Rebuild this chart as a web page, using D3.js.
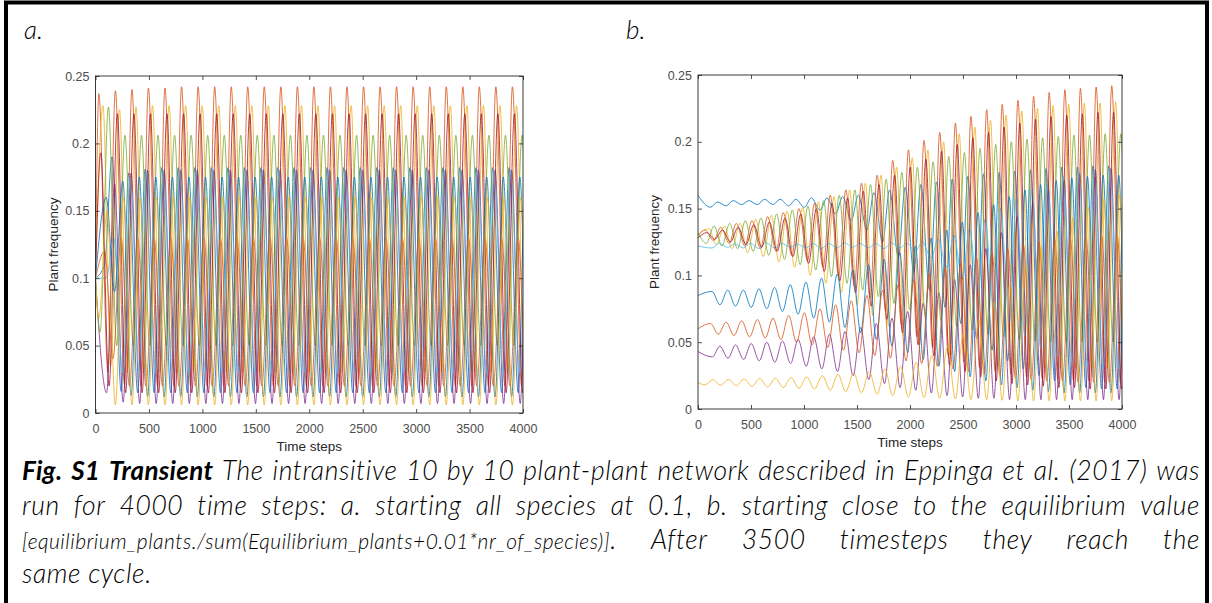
<!DOCTYPE html>
<html>
<head>
<meta charset="utf-8">
<script src="https://cdn.jsdelivr.net/npm/d3@7"></script>
<style>
  body { margin: 0; background: #fff; }
  svg { display: block; }
</style>
</head>
<body>
<svg width="1212" height="603"></svg>
<script>
// series order = MATLAB line order
const seriesNames = ['sp1', 'sp2', 'sp3', 'sp4', 'sp5', 'sp6', 'sp7', 'sp8', 'sp9', 'sp10'];
const colors = ['#0072BD', '#D95319', '#EDB120', '#7E2F8E', '#77AC30', '#4DBEEE', '#A2142F', '#0072BD', '#D95319', '#EDB120'];
const xTicks = [0, 500, 1000, 1500, 2000, 2500, 3000, 3500, 4000];
const yTicks = [0, 0.05, 0.1, 0.15, 0.2, 0.25];
const yTickLabels = ['0', '0.05', '0.1', '0.15', '0.2', '0.25'];

// where in a cycle each species peaks / bottoms out (fraction of a cycle)
const peakPhase = [0.80, 0.00, 0.25, 0.95, 0.58, 0.90, 0.12, 0.45, 0.35, 0.50];
const troughPhase = [0.35, 0.55, 0.72, 0.47, 0.08, 0.45, 0.62, 0.95, 0.85, 0.00];

// ---- panel a: all species start at 0.1 ----
const startA = [0.1, 0.1, 0.1, 0.1, 0.1, 0.1, 0.1, 0.1, 0.1, 0.1];
const cycleTimesA = [31, 186, 341, 495, 650, 805, 960, 1115, 1270, 1424, 1579, 1734, 1889, 2043,
  2198, 2353, 2508, 2663, 2817, 2972, 3127, 3282, 3437, 3591, 3746, 3901, 4056];
const peaksA = [
  [0.19, 0.178, 0.181, 0.182, 0.182, 0.182, 0.182, 0.182, 0.182, 0.182, 0.182, 0.182, 0.182, 0.182, 0.182, 0.182, 0.182, 0.182, 0.182, 0.182, 0.182, 0.182, 0.182, 0.182, 0.182, 0.182, 0.182],
  [0.237, 0.239, 0.24, 0.241, 0.241, 0.242, 0.242, 0.242, 0.242, 0.242, 0.242, 0.242, 0.242, 0.242, 0.242, 0.242, 0.242, 0.242, 0.242, 0.242, 0.242, 0.242, 0.242, 0.242, 0.242, 0.242, 0.242],
  [0.228, 0.225, 0.227, 0.228, 0.228, 0.228, 0.228, 0.228, 0.228, 0.228, 0.228, 0.228, 0.228, 0.228, 0.228, 0.228, 0.228, 0.228, 0.228, 0.228, 0.228, 0.228, 0.228, 0.228, 0.228, 0.228, 0.228],
  [0.17, 0.178, 0.18, 0.18, 0.18, 0.18, 0.18, 0.18, 0.18, 0.18, 0.18, 0.18, 0.18, 0.18, 0.18, 0.18, 0.18, 0.18, 0.18, 0.18, 0.18, 0.18, 0.18, 0.18, 0.18, 0.18, 0.18],
  [0.227, 0.206, 0.206, 0.206, 0.206, 0.206, 0.206, 0.206, 0.206, 0.206, 0.206, 0.206, 0.206, 0.206, 0.206, 0.206, 0.206, 0.206, 0.206, 0.206, 0.206, 0.206, 0.206, 0.206, 0.206, 0.206, 0.206],
  [0.13, 0.175, 0.179, 0.18, 0.18, 0.18, 0.18, 0.18, 0.18, 0.18, 0.18, 0.18, 0.18, 0.18, 0.18, 0.18, 0.18, 0.18, 0.18, 0.18, 0.18, 0.18, 0.18, 0.18, 0.18, 0.18, 0.18],
  [0.193, 0.222, 0.222, 0.222, 0.222, 0.222, 0.222, 0.222, 0.222, 0.222, 0.222, 0.222, 0.222, 0.222, 0.222, 0.222, 0.222, 0.222, 0.222, 0.222, 0.222, 0.222, 0.222, 0.222, 0.222, 0.222, 0.222],
  [0.16, 0.172, 0.175, 0.175, 0.175, 0.175, 0.175, 0.175, 0.175, 0.175, 0.175, 0.175, 0.175, 0.175, 0.175, 0.175, 0.175, 0.175, 0.175, 0.175, 0.175, 0.175, 0.175, 0.175, 0.175, 0.175, 0.175],
  [0.12, 0.13, 0.13, 0.13, 0.13, 0.13, 0.13, 0.13, 0.13, 0.13, 0.13, 0.13, 0.13, 0.13, 0.13, 0.13, 0.13, 0.13, 0.13, 0.13, 0.13, 0.13, 0.13, 0.13, 0.13, 0.13, 0.13],
  [0.15, 0.16, 0.16, 0.16, 0.16, 0.16, 0.16, 0.16, 0.16, 0.16, 0.16, 0.16, 0.16, 0.16, 0.16, 0.16, 0.16, 0.16, 0.16, 0.16, 0.16, 0.16, 0.16, 0.16, 0.16, 0.16, 0.16]
];
const troughsA = [
  [0.11, 0.016, 0.015, 0.015, 0.015, 0.015, 0.015, 0.015, 0.015, 0.015, 0.015, 0.015, 0.015, 0.015, 0.015, 0.015, 0.015, 0.015, 0.015, 0.015, 0.015, 0.015, 0.015, 0.015, 0.015, 0.015, 0.015],
  [0.03, 0.021, 0.02, 0.02, 0.02, 0.02, 0.02, 0.02, 0.02, 0.02, 0.02, 0.02, 0.02, 0.02, 0.02, 0.02, 0.02, 0.02, 0.02, 0.02, 0.02, 0.02, 0.02, 0.02, 0.02, 0.02, 0.02],
  [0.035, 0.03, 0.03, 0.03, 0.03, 0.03, 0.03, 0.03, 0.03, 0.03, 0.03, 0.03, 0.03, 0.03, 0.03, 0.03, 0.03, 0.03, 0.03, 0.03, 0.03, 0.03, 0.03, 0.03, 0.03, 0.03, 0.03],
  [0.015, 0.008, 0.007, 0.007, 0.007, 0.007, 0.007, 0.007, 0.007, 0.007, 0.007, 0.007, 0.007, 0.007, 0.007, 0.007, 0.007, 0.007, 0.007, 0.007, 0.007, 0.007, 0.007, 0.007, 0.007, 0.007, 0.007],
  [0.06, 0.05, 0.05, 0.05, 0.05, 0.05, 0.05, 0.05, 0.05, 0.05, 0.05, 0.05, 0.05, 0.05, 0.05, 0.05, 0.05, 0.05, 0.05, 0.05, 0.05, 0.05, 0.05, 0.05, 0.05, 0.05, 0.05],
  [0.1, 0.03, 0.03, 0.03, 0.03, 0.03, 0.03, 0.03, 0.03, 0.03, 0.03, 0.03, 0.03, 0.03, 0.03, 0.03, 0.03, 0.03, 0.03, 0.03, 0.03, 0.03, 0.03, 0.03, 0.03, 0.03, 0.03],
  [0.02, 0.015, 0.015, 0.015, 0.015, 0.015, 0.015, 0.015, 0.015, 0.015, 0.015, 0.015, 0.015, 0.015, 0.015, 0.015, 0.015, 0.015, 0.015, 0.015, 0.015, 0.015, 0.015, 0.015, 0.015, 0.015, 0.015],
  [0.09, 0.013, 0.012, 0.012, 0.012, 0.012, 0.012, 0.012, 0.012, 0.012, 0.012, 0.012, 0.012, 0.012, 0.012, 0.012, 0.012, 0.012, 0.012, 0.012, 0.012, 0.012, 0.012, 0.012, 0.012, 0.012, 0.012],
  [0.04, 0.02, 0.02, 0.02, 0.02, 0.02, 0.02, 0.02, 0.02, 0.02, 0.02, 0.02, 0.02, 0.02, 0.02, 0.02, 0.02, 0.02, 0.02, 0.02, 0.02, 0.02, 0.02, 0.02, 0.02, 0.02, 0.02],
  [0.07, 0.006, 0.006, 0.006, 0.006, 0.006, 0.006, 0.006, 0.006, 0.006, 0.006, 0.006, 0.006, 0.006, 0.006, 0.006, 0.006, 0.006, 0.006, 0.006, 0.006, 0.006, 0.006, 0.006, 0.006, 0.006, 0.006]
];

// ---- panel b: start close to the equilibrium ----
const startB = [0.16, 0.13, 0.13, 0.043, 0.132, 0.122, 0.128, 0.085, 0.06, 0.02];
const cycleTimesB = [66, 214, 361, 509, 656, 804, 952, 1099, 1247, 1394, 1542, 1690, 1837, 1985,
  2132, 2280, 2428, 2575, 2723, 2870, 3018, 3166, 3313, 3461, 3608, 3756, 3903, 4051];
const peaksB = [
  [0.155, 0.156, 0.156, 0.157, 0.157, 0.157, 0.158, 0.158, 0.159, 0.16, 0.162, 0.164, 0.166, 0.168, 0.17, 0.172, 0.174, 0.176, 0.177, 0.178, 0.179, 0.18, 0.181, 0.181, 0.182, 0.182, 0.182, 0.182],
  [0.134, 0.136, 0.139, 0.141, 0.144, 0.147, 0.15, 0.154, 0.16, 0.164, 0.169, 0.175, 0.186, 0.194, 0.201, 0.207, 0.214, 0.219, 0.224, 0.228, 0.231, 0.234, 0.237, 0.239, 0.24, 0.241, 0.242, 0.242],
  [0.135, 0.137, 0.139, 0.142, 0.145, 0.148, 0.151, 0.155, 0.159, 0.164, 0.169, 0.175, 0.181, 0.188, 0.194, 0.2, 0.206, 0.211, 0.216, 0.22, 0.223, 0.225, 0.227, 0.228, 0.229, 0.229, 0.23, 0.23],
  [0.047, 0.048, 0.049, 0.05, 0.051, 0.052, 0.054, 0.056, 0.058, 0.061, 0.064, 0.068, 0.073, 0.079, 0.087, 0.097, 0.108, 0.12, 0.132, 0.144, 0.155, 0.164, 0.171, 0.176, 0.179, 0.18, 0.18, 0.18],
  [0.137, 0.139, 0.141, 0.143, 0.146, 0.149, 0.152, 0.156, 0.16, 0.164, 0.168, 0.172, 0.177, 0.181, 0.185, 0.189, 0.192, 0.195, 0.198, 0.2, 0.202, 0.203, 0.204, 0.205, 0.205, 0.206, 0.206, 0.206],
  [0.124, 0.1235, 0.124, 0.1245, 0.124, 0.1235, 0.124, 0.124, 0.1245, 0.124, 0.124, 0.1245, 0.124, 0.125, 0.127, 0.13, 0.135, 0.142, 0.15, 0.158, 0.165, 0.17, 0.174, 0.177, 0.179, 0.18, 0.18, 0.18],
  [0.132, 0.134, 0.136, 0.138, 0.14, 0.143, 0.146, 0.15, 0.154, 0.158, 0.163, 0.168, 0.175, 0.181, 0.187, 0.193, 0.198, 0.203, 0.207, 0.211, 0.214, 0.217, 0.219, 0.22, 0.221, 0.222, 0.222, 0.222],
  [0.088, 0.089, 0.089, 0.09, 0.091, 0.093, 0.095, 0.098, 0.101, 0.104, 0.108, 0.112, 0.117, 0.122, 0.128, 0.134, 0.14, 0.147, 0.153, 0.159, 0.164, 0.168, 0.171, 0.173, 0.174, 0.175, 0.175, 0.175],
  [0.064, 0.065, 0.066, 0.067, 0.068, 0.07, 0.072, 0.075, 0.078, 0.081, 0.085, 0.089, 0.093, 0.097, 0.101, 0.105, 0.109, 0.113, 0.117, 0.12, 0.123, 0.125, 0.127, 0.128, 0.129, 0.13, 0.13, 0.13],
  [0.022, 0.0222, 0.0225, 0.0228, 0.023, 0.0235, 0.024, 0.025, 0.026, 0.027, 0.028, 0.03, 0.032, 0.035, 0.04, 0.047, 0.056, 0.067, 0.08, 0.094, 0.108, 0.121, 0.133, 0.143, 0.151, 0.157, 0.16, 0.16]
];
const troughsB = [
  [0.151, 0.152, 0.153, 0.153, 0.153, 0.152, 0.151, 0.149, 0.146, 0.141, 0.134, 0.125, 0.114, 0.102, 0.089, 0.076, 0.064, 0.053, 0.044, 0.036, 0.03, 0.025, 0.021, 0.018, 0.016, 0.015, 0.015, 0.015],
  [0.126, 0.124, 0.122, 0.12, 0.118, 0.115, 0.111, 0.106, 0.1, 0.092, 0.083, 0.073, 0.063, 0.054, 0.046, 0.04, 0.035, 0.031, 0.028, 0.026, 0.024, 0.023, 0.022, 0.021, 0.021, 0.02, 0.02, 0.02],
  [0.123, 0.12, 0.117, 0.114, 0.11, 0.106, 0.1, 0.094, 0.087, 0.078, 0.07, 0.062, 0.055, 0.049, 0.044, 0.04, 0.037, 0.034, 0.032, 0.031, 0.03, 0.03, 0.03, 0.03, 0.03, 0.03, 0.03, 0.03],
  [0.039, 0.038, 0.037, 0.036, 0.035, 0.034, 0.032, 0.03, 0.028, 0.025, 0.022, 0.019, 0.016, 0.014, 0.012, 0.01, 0.009, 0.008, 0.008, 0.007, 0.007, 0.007, 0.007, 0.007, 0.007, 0.007, 0.007, 0.007],
  [0.124, 0.122, 0.12, 0.118, 0.115, 0.112, 0.108, 0.104, 0.099, 0.094, 0.089, 0.084, 0.079, 0.074, 0.07, 0.066, 0.062, 0.059, 0.056, 0.054, 0.052, 0.051, 0.05, 0.05, 0.05, 0.05, 0.05, 0.05],
  [0.1205, 0.121, 0.1205, 0.12, 0.1205, 0.121, 0.1205, 0.12, 0.1205, 0.121, 0.1205, 0.12, 0.1205, 0.118, 0.113, 0.106, 0.097, 0.087, 0.076, 0.065, 0.055, 0.046, 0.04, 0.035, 0.032, 0.03, 0.03, 0.03],
  [0.127, 0.125, 0.123, 0.121, 0.118, 0.114, 0.109, 0.103, 0.096, 0.087, 0.077, 0.067, 0.057, 0.048, 0.04, 0.033, 0.028, 0.024, 0.021, 0.019, 0.018, 0.017, 0.016, 0.016, 0.015, 0.015, 0.015, 0.015],
  [0.078, 0.077, 0.076, 0.075, 0.073, 0.071, 0.068, 0.065, 0.061, 0.057, 0.052, 0.047, 0.042, 0.037, 0.032, 0.028, 0.024, 0.021, 0.018, 0.016, 0.014, 0.013, 0.012, 0.012, 0.012, 0.012, 0.012, 0.012],
  [0.056, 0.055, 0.054, 0.053, 0.052, 0.05, 0.048, 0.046, 0.044, 0.042, 0.04, 0.038, 0.036, 0.034, 0.032, 0.03, 0.028, 0.026, 0.025, 0.023, 0.022, 0.021, 0.021, 0.02, 0.02, 0.02, 0.02, 0.02],
  [0.018, 0.0178, 0.0175, 0.017, 0.0165, 0.016, 0.0155, 0.015, 0.014, 0.013, 0.012, 0.011, 0.01, 0.009, 0.0085, 0.008, 0.0075, 0.007, 0.007, 0.0065, 0.006, 0.006, 0.006, 0.006, 0.006, 0.006, 0.006, 0.006]
];

// caption: [text, kind] pieces per line; a piece without a leading space sticks to the word before
const captionLines = [
  [['Fig. S1 Transient', 'bold'], [' The intransitive 10 by 10 plant-plant network described in Eppinga et al. (2017) was', 'normal']],
  [['run for 4000 time steps: a. starting all species at 0.1, b. starting close to the equilibrium value', 'normal']],
  [['[equilibrium_plants./sum(Equilibrium_plants+0.01*nr_of_species)]', 'small'], ['. After 3500 timesteps they reach the', 'normal']],
  [['same cycle.', 'normal']]
];

const svg = d3.select('svg');
const capFont = 'Lato, "Open Sans", sans-serif';
const axFont = '"Liberation Sans", Arial, sans-serif';

// frame around the figure
svg.append('rect').attr('x', 6).attr('y', 2.5).attr('width', 1201).attr('height', 610)
  .attr('fill', 'none').attr('stroke', '#000').attr('stroke-width', 4);

svg.append('text').attr('x', 24).attr('y', 39).text('a.')
  .style('font-family', capFont).style('font-style', 'italic')
  .style('font-weight', 300).style('font-size', '26px');
svg.append('text').attr('x', 626).attr('y', 39).text('b.')
  .style('font-family', capFont).style('font-style', 'italic')
  .style('font-weight', 300).style('font-size', '26px');

const buildPoints = (cycleTimes, start, peaks, troughs, i) => {
  const pts = [[0, start[i]]];
  cycleTimes.forEach((t, k) => {
    const next = k + 1 < cycleTimes.length ? cycleTimes[k + 1] : t + (t - cycleTimes[k - 1]);
    const P = next - t;
    pts.push([t + peakPhase[i] * P, peaks[i][k]]);
    pts.push([t + troughPhase[i] * P, troughs[i][k]]);
  });
  return pts.sort((a, b) => a[0] - b[0]);
};

const drawPanel = (id, box, cycleTimes, start, peaks, troughs, labelX) => {
  const x = d3.scaleLinear().domain([0, 4000]).range([box.x0, box.x1]);
  const y = d3.scaleLinear().domain([0, 0.25]).range([box.y1, box.y0]);
  const g = svg.append('g');

  g.append('clipPath').attr('id', 'clip' + id).append('rect')
    .attr('x', box.x0).attr('y', box.y0).attr('width', box.x1 - box.x0).attr('height', box.y1 - box.y0);

  const line = d3.line().x(d => x(d[0])).y(d => y(d[1])).curve(d3.curveMonotoneX);
  const lines = g.append('g').attr('clip-path', 'url(#clip' + id + ')');
  seriesNames.forEach((name, i) => {
    lines.append('path')
      .attr('d', line(buildPoints(cycleTimes, start, peaks, troughs, i)))
      .attr('fill', 'none')
      .attr('stroke', colors[i])
      .attr('stroke-width', 0.95)
      .attr('stroke-opacity', 0.85);
  });

  // MATLAB style box with ticks inside
  const axisStyle = sel => {
    sel.select('.domain').remove();
    sel.selectAll('line').attr('stroke', '#262626').attr('stroke-width', 0.8);
    sel.selectAll('text').attr('fill', '#4d4d4d')
      .style('font-family', axFont).style('font-size', '12.5px');
  };
  g.append('g').attr('transform', `translate(0,${box.y1})`)
    .call(d3.axisBottom(x).tickValues(xTicks).tickSizeInner(-4).tickSizeOuter(0).tickPadding(11)
      .tickFormat(d3.format('d')))
    .call(axisStyle);
  g.append('g').attr('transform', `translate(0,${box.y0})`)
    .call(d3.axisTop(x).tickValues(xTicks).tickSizeInner(-4).tickSizeOuter(0).tickFormat(''))
    .call(axisStyle);
  g.append('g').attr('transform', `translate(${box.x0},0)`)
    .call(d3.axisLeft(y).tickValues(yTicks).tickSizeInner(-4).tickSizeOuter(0).tickPadding(6)
      .tickFormat((d, j) => yTickLabels[j]))
    .call(axisStyle);
  g.append('g').attr('transform', `translate(${box.x1},0)`)
    .call(d3.axisRight(y).tickValues(yTicks).tickSizeInner(-4).tickSizeOuter(0).tickFormat(''))
    .call(axisStyle);
  g.append('rect').attr('x', box.x0).attr('y', box.y0)
    .attr('width', box.x1 - box.x0).attr('height', box.y1 - box.y0)
    .attr('fill', 'none').attr('stroke', '#262626').attr('stroke-width', 0.9);

  g.append('text').attr('x', (box.x0 + box.x1) / 2).attr('y', box.y1 + 38)
    .attr('text-anchor', 'middle').attr('fill', '#262626').text('Time steps')
    .style('font-family', axFont).style('font-size', '13.5px');
  g.append('text').attr('transform', `translate(${labelX},${(box.y0 + box.y1) / 2}) rotate(-90)`)
    .attr('text-anchor', 'middle').attr('fill', '#262626').text('Plant frequency')
    .style('font-family', axFont).style('font-size', '13.5px');
};

drawPanel('a', { x0: 95.5, x1: 523, y0: 76, y1: 413 }, cycleTimesA, startA, peaksA, troughsA, 58);
drawPanel('b', { x0: 698, x1: 1122, y0: 75, y1: 409 }, cycleTimesB, startB, peaksB, troughsB, 659);

// caption: justified by stretching the gaps between words, like the document
const capY = [480, 515, 549, 583];
const capLeft = 22, capRight = 1200;
const kindStyle = {
  bold: { weight: 700, size: 26, spacing: 0.3 },
  normal: { weight: 300, size: 26.5, spacing: 0.6 },
  small: { weight: 300, size: 21, spacing: 0.5 }
};
captionLines.forEach((pieces, li) => {
  const words = [];
  pieces.forEach(([txt, kind]) => {
    txt.split(' ').forEach((tok, ti) => {
      if (tok === '') return;
      const seg = { tok, kind };
      if (ti === 0 && words.length && !txt.startsWith(' ')) words[words.length - 1].push(seg);
      else words.push([seg]);
    });
  });
  const nodes = words.map(segs => {
    const t = svg.append('text').attr('y', capY[li]).attr('fill', '#000')
      .style('font-family', capFont).style('font-style', 'italic');
    segs.forEach(s => {
      t.append('tspan').text(s.tok)
        .style('font-weight', kindStyle[s.kind].weight)
        .style('font-size', kindStyle[s.kind].size + 'px')
        .style('letter-spacing', kindStyle[s.kind].spacing + 'px');
    });
    return t;
  });
  const widths = nodes.map(n => n.node().getComputedTextLength());
  const total = d3.sum(widths);
  const last = li === captionLines.length - 1;
  const gap = last ? 7 : (capRight - capLeft - total) / (nodes.length - 1);
  let cx = capLeft;
  nodes.forEach((n, j) => {
    n.attr('x', cx);
    cx += widths[j] + gap;
  });
});
</script>
</body>
</html>
